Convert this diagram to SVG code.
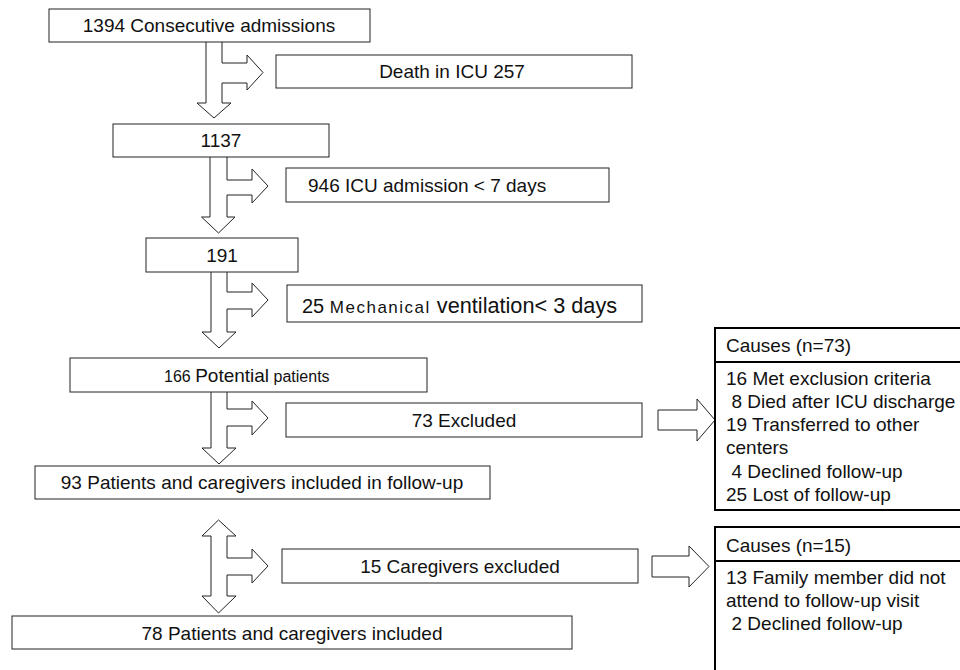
<svg xmlns="http://www.w3.org/2000/svg" width="960" height="670" viewBox="0 0 960 670">
<style>
.box{fill:#fff;stroke:#222;stroke-width:1}
.cbox{fill:#fff;stroke:#000;stroke-width:2}
.arr{fill:#fff;stroke:#222;stroke-width:1;stroke-linejoin:miter}
text{font-family:"Liberation Sans",Arial,sans-serif;font-size:19px;fill:#111}
.c{text-anchor:middle}
</style>
<rect width="960" height="670" fill="#fff"/>
<g id="connectors">
<path class="arr" d="M206,42 L206,103 L197,103 L214,118 L231,103 L222,103 L222,83 L247,83 L247,90 L263,72.5 L247,55 L247,63 L222,63 L222,42"/>
<path class="arr" d="M210,157 L210,217 L201.5,217 L218.5,233 L235,217 L227,217 L227,195 L252,195 L252,203 L268,186 L252,169 L252,180 L227,180 L227,157"/>
<path class="arr" d="M211,272 L211,332 L202,332 L219,348 L236,332 L227,332 L227,309 L252,309 L252,317 L268,300 L252,283 L252,292 L227,292 L227,272"/>
<path class="arr" d="M211,392 L211,448 L202,448 L219,464 L236,448 L227,448 L227,426 L252,426 L252,435 L268,418 L252,401 L252,409 L227,409 L227,392"/>
<path class="arr" d="M218.5,520 L236,536 L227,536 L227,558 L252,558 L252,549 L268,566 L252,583 L252,575 L227,575 L227,596 L236,596 L218.5,613 L202,596 L211,596 L211,536 L202,536 Z"/>
<path class="arr" d="M658,410 L697,410 L697,399 L715,420 L697,441 L697,430 L658,430 Z"/>
<path class="arr" d="M652,556 L689,556 L689,546 L709,566.5 L689,587 L689,577 L652,577 Z"/>
</g>
<g id="n1394"><rect class="box" x="49" y="9" width="321" height="33"/><text class="c" x="209" y="32">1394 Consecutive admissions</text></g>
<g id="death"><rect class="box" x="276" y="55" width="356" height="33"/><text class="c" x="452" y="78">Death in ICU 257</text></g>
<g id="n1137"><rect class="box" x="113" y="124" width="216" height="33"/><text class="c" x="221" y="147">1137</text></g>
<g id="icu7"><rect class="box" x="286" y="168" width="323" height="34"/><text x="308" y="192">946 ICU admission &lt; 7 days</text></g>
<g id="n191"><rect class="box" x="146" y="238" width="152" height="34"/><text class="c" x="222" y="262">191</text></g>
<g id="mv3"><rect class="box" x="287" y="285" width="355" height="37"/><text x="302" y="313"><tspan font-size="20">25 </tspan><tspan font-size="17" letter-spacing="1.5">Mechanical</tspan><tspan font-size="21.7"> ventilation&lt; 3 days</tspan></text></g>
<g id="n166"><rect class="box" x="70" y="358" width="357" height="34"/><text x="164" y="382"><tspan font-size="16">166 </tspan><tspan>Potential</tspan><tspan font-size="16"> patients</tspan></text></g>
<g id="excl73"><rect class="box" x="286" y="403" width="356" height="34"/><text class="c" x="464" y="427">73 Excluded</text></g>
<g id="n93"><rect class="box" x="35" y="466" width="455" height="33"/><text class="c" x="262" y="489">93 Patients and caregivers included in follow-up</text></g>
<g id="excl15"><rect class="box" x="282" y="549" width="356" height="34"/><text class="c" x="460" y="573">15 Caregivers excluded</text></g>
<g id="n78"><rect class="box" x="12" y="616" width="560" height="33"/><text class="c" x="292" y="640">78 Patients and caregivers included</text></g>
<g id="causes73"><rect class="cbox" x="715" y="328" width="260" height="182"/><line x1="715" y1="362" x2="975" y2="362" stroke="#000" stroke-width="2"/>
<text x="726" y="352">Causes (n=73)</text>
<text x="726" y="385">16 Met exclusion criteria</text>
<text x="731.5" y="408">8 Died after ICU discharge</text>
<text x="726" y="431">19 Transferred to other</text>
<text x="726" y="454">centers</text>
<text x="731.5" y="478">4 Declined follow-up</text>
<text x="726" y="501">25 Lost of follow-up</text></g>
<g id="causes15"><rect class="cbox" x="715" y="527" width="260" height="150"/><line x1="715" y1="561" x2="975" y2="561" stroke="#000" stroke-width="2"/>
<text x="726" y="552">Causes (n=15)</text>
<text x="726" y="584">13 Family member did not</text>
<text x="726" y="607">attend to follow-up visit</text>
<text x="731.5" y="630">2 Declined follow-up</text></g>
</svg>
